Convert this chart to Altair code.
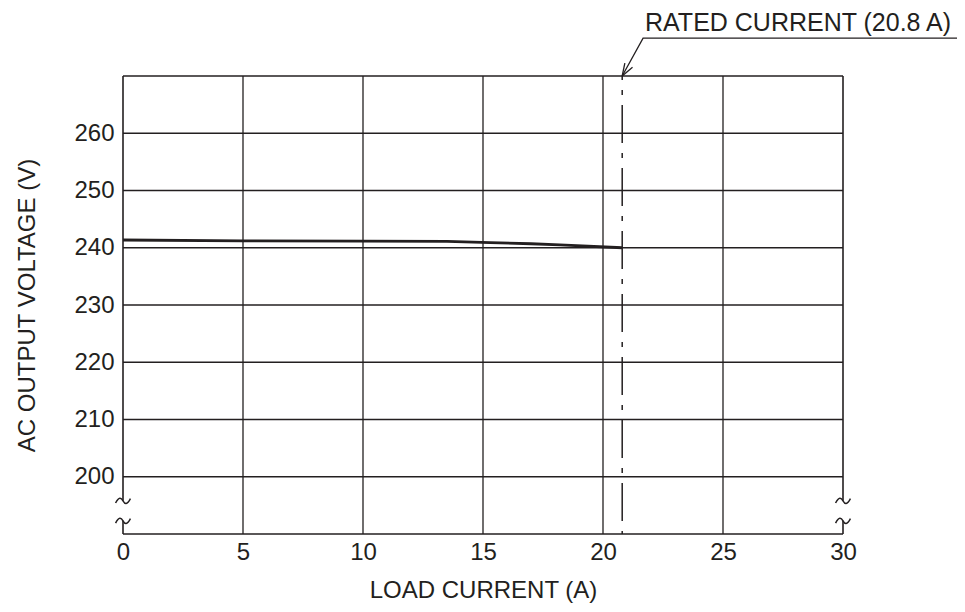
import altair as alt
import pandas as pd

# ---- data ----
load_current = [0, 5, 10, 13.5, 15.3, 17, 18.2, 20.8]
output_voltage = [241.35, 241.2, 241.15, 241.1, 240.9, 240.7, 240.5, 240.0]

x_ticks = [0, 5, 10, 15, 20, 25, 30]
y_ticks = [200, 210, 220, 230, 240, 250, 260]
x_grid = [5, 10, 15, 20, 25]
rated_current = 20.8
rated_label = "RATED CURRENT (20.8 A)"

X_DOM = [0, 30]
Y_DOM = [190, 270]
INK = "#231f20"
FONT = "Liberation Sans"
TILDE = "M -1 0.3 C -0.55 -0.6 -0.25 -0.45 0 0 C 0.25 0.45 0.55 0.6 1 -0.3"

xs = alt.Scale(domain=X_DOM, nice=False, zero=False)
ys = alt.Scale(domain=Y_DOM, nice=False, zero=False)

# horizontal grid lines
hgrid = pd.DataFrame({"y": y_ticks, "x": [0] * len(y_ticks), "x2": [30] * len(y_ticks)})
hgrid_layer = alt.Chart(hgrid).mark_rule(color=INK, strokeWidth=1.3).encode(
    x=alt.X("x:Q", scale=xs,
            axis=alt.Axis(values=x_ticks, title="LOAD CURRENT (A)", grid=False, ticks=False,
                          domain=False, labelPadding=6, titlePadding=14, format="d",
                          labelFlush=False)),
    x2="x2:Q",
    y=alt.Y("y:Q", scale=ys,
            axis=alt.Axis(values=y_ticks, title="AC OUTPUT VOLTAGE (V)", grid=False, ticks=False,
                          domain=False, labelPadding=9, titlePadding=34, format="d",
                          labelFlush=False)),
)

# vertical grid lines
vgrid = pd.DataFrame({"x": x_grid, "y": [190] * len(x_grid), "y2": [270] * len(x_grid)})
vgrid_layer = alt.Chart(vgrid).mark_rule(color=INK, strokeWidth=1.3).encode(
    x=alt.X("x:Q", scale=xs), y=alt.Y("y:Q", scale=ys), y2="y2:Q")

# frame (with axis breaks at left and right)
frame_h = pd.DataFrame({"y": [190, 270], "x": [0, 0], "x2": [30, 30]})
frame_h_layer = alt.Chart(frame_h).mark_rule(color=INK, strokeWidth=1.6).encode(
    x=alt.X("x:Q", scale=xs), x2="x2:Q", y=alt.Y("y:Q", scale=ys))
frame_v = pd.DataFrame({"x": [0, 0, 30, 30], "y": [190, 195.8, 190, 195.8],
                        "y2": [192.3, 270, 192.3, 270]})
frame_v_layer = alt.Chart(frame_v).mark_rule(color=INK, strokeWidth=1.6).encode(
    x=alt.X("x:Q", scale=xs), y=alt.Y("y:Q", scale=ys), y2="y2:Q")

# break marks (tilde symbols)
breaks = pd.DataFrame({"x": [0, 0, 30, 30], "y": [192.3, 195.8, 192.3, 195.8]})
breaks_layer = alt.Chart(breaks).mark_point(shape=TILDE, filled=False, color=INK, size=220,
                                            strokeWidth=1.5, opacity=1).encode(
    x=alt.X("x:Q", scale=xs), y=alt.Y("y:Q", scale=ys))

# curve
curve = pd.DataFrame({"x": load_current, "y": output_voltage})
curve_layer = alt.Chart(curve).mark_line(color=INK, strokeWidth=2.8).encode(
    x=alt.X("x:Q", scale=xs), y=alt.Y("y:Q", scale=ys))

# rated current dash-dot line
rated = pd.DataFrame({"x": [rated_current], "y": [270], "y2": [190]})
rated_layer = alt.Chart(rated).mark_rule(color=INK, strokeWidth=1.5, strokeDash=[38, 10, 5, 10],
                                         strokeDashOffset=34).encode(
    x=alt.X("x:Q", scale=xs), y=alt.Y("y:Q", scale=ys), y2="y2:Q")

# leader line + arrowhead
leader = pd.DataFrame({"x": [rated_current, 21.67, 35.0], "y": [270, 276.6, 276.6], "o": [0, 1, 2]})
leader_layer = alt.Chart(leader).mark_line(color=INK, strokeWidth=1.3, clip=False).encode(
    x=alt.X("x:Q", scale=xs), y=alt.Y("y:Q", scale=ys), order="o:Q")
arrow = pd.DataFrame({"x": [rated_current, rated_current], "y": [270, 270],
                      "x2": [21.23, 20.91], "y2": [271.52, 272.25]})
arrow_layer = alt.Chart(arrow).mark_rule(color=INK, strokeWidth=1.3).encode(
    x=alt.X("x:Q", scale=xs), y=alt.Y("y:Q", scale=ys), x2="x2:Q", y2="y2:Q")

label = pd.DataFrame({"x": [21.75], "y": [277.9], "t": [rated_label]})
label_layer = alt.Chart(label).mark_text(color=INK, fontSize=25, font=FONT, align="left",
                                         baseline="alphabetic").encode(
    x=alt.X("x:Q", scale=xs), y=alt.Y("y:Q", scale=ys), text="t:N")

chart = alt.layer(
    hgrid_layer, vgrid_layer, frame_h_layer, frame_v_layer, breaks_layer,
    curve_layer, rated_layer, leader_layer, arrow_layer, label_layer,
).properties(
    width=720, height=458,
    autosize=alt.AutoSizeParams(type="none"),
    padding={"left": 115, "top": 68, "right": 114, "bottom": 70},
    background="white",
).configure_view(stroke=None).configure_axis(
    labelFont=FONT, titleFont=FONT, labelFontSize=24, titleFontSize=24,
    labelColor=INK, titleColor=INK, titleFontWeight="normal",
)

chart.save("out.html", embed_options={"renderer": "svg", "actions": False})
